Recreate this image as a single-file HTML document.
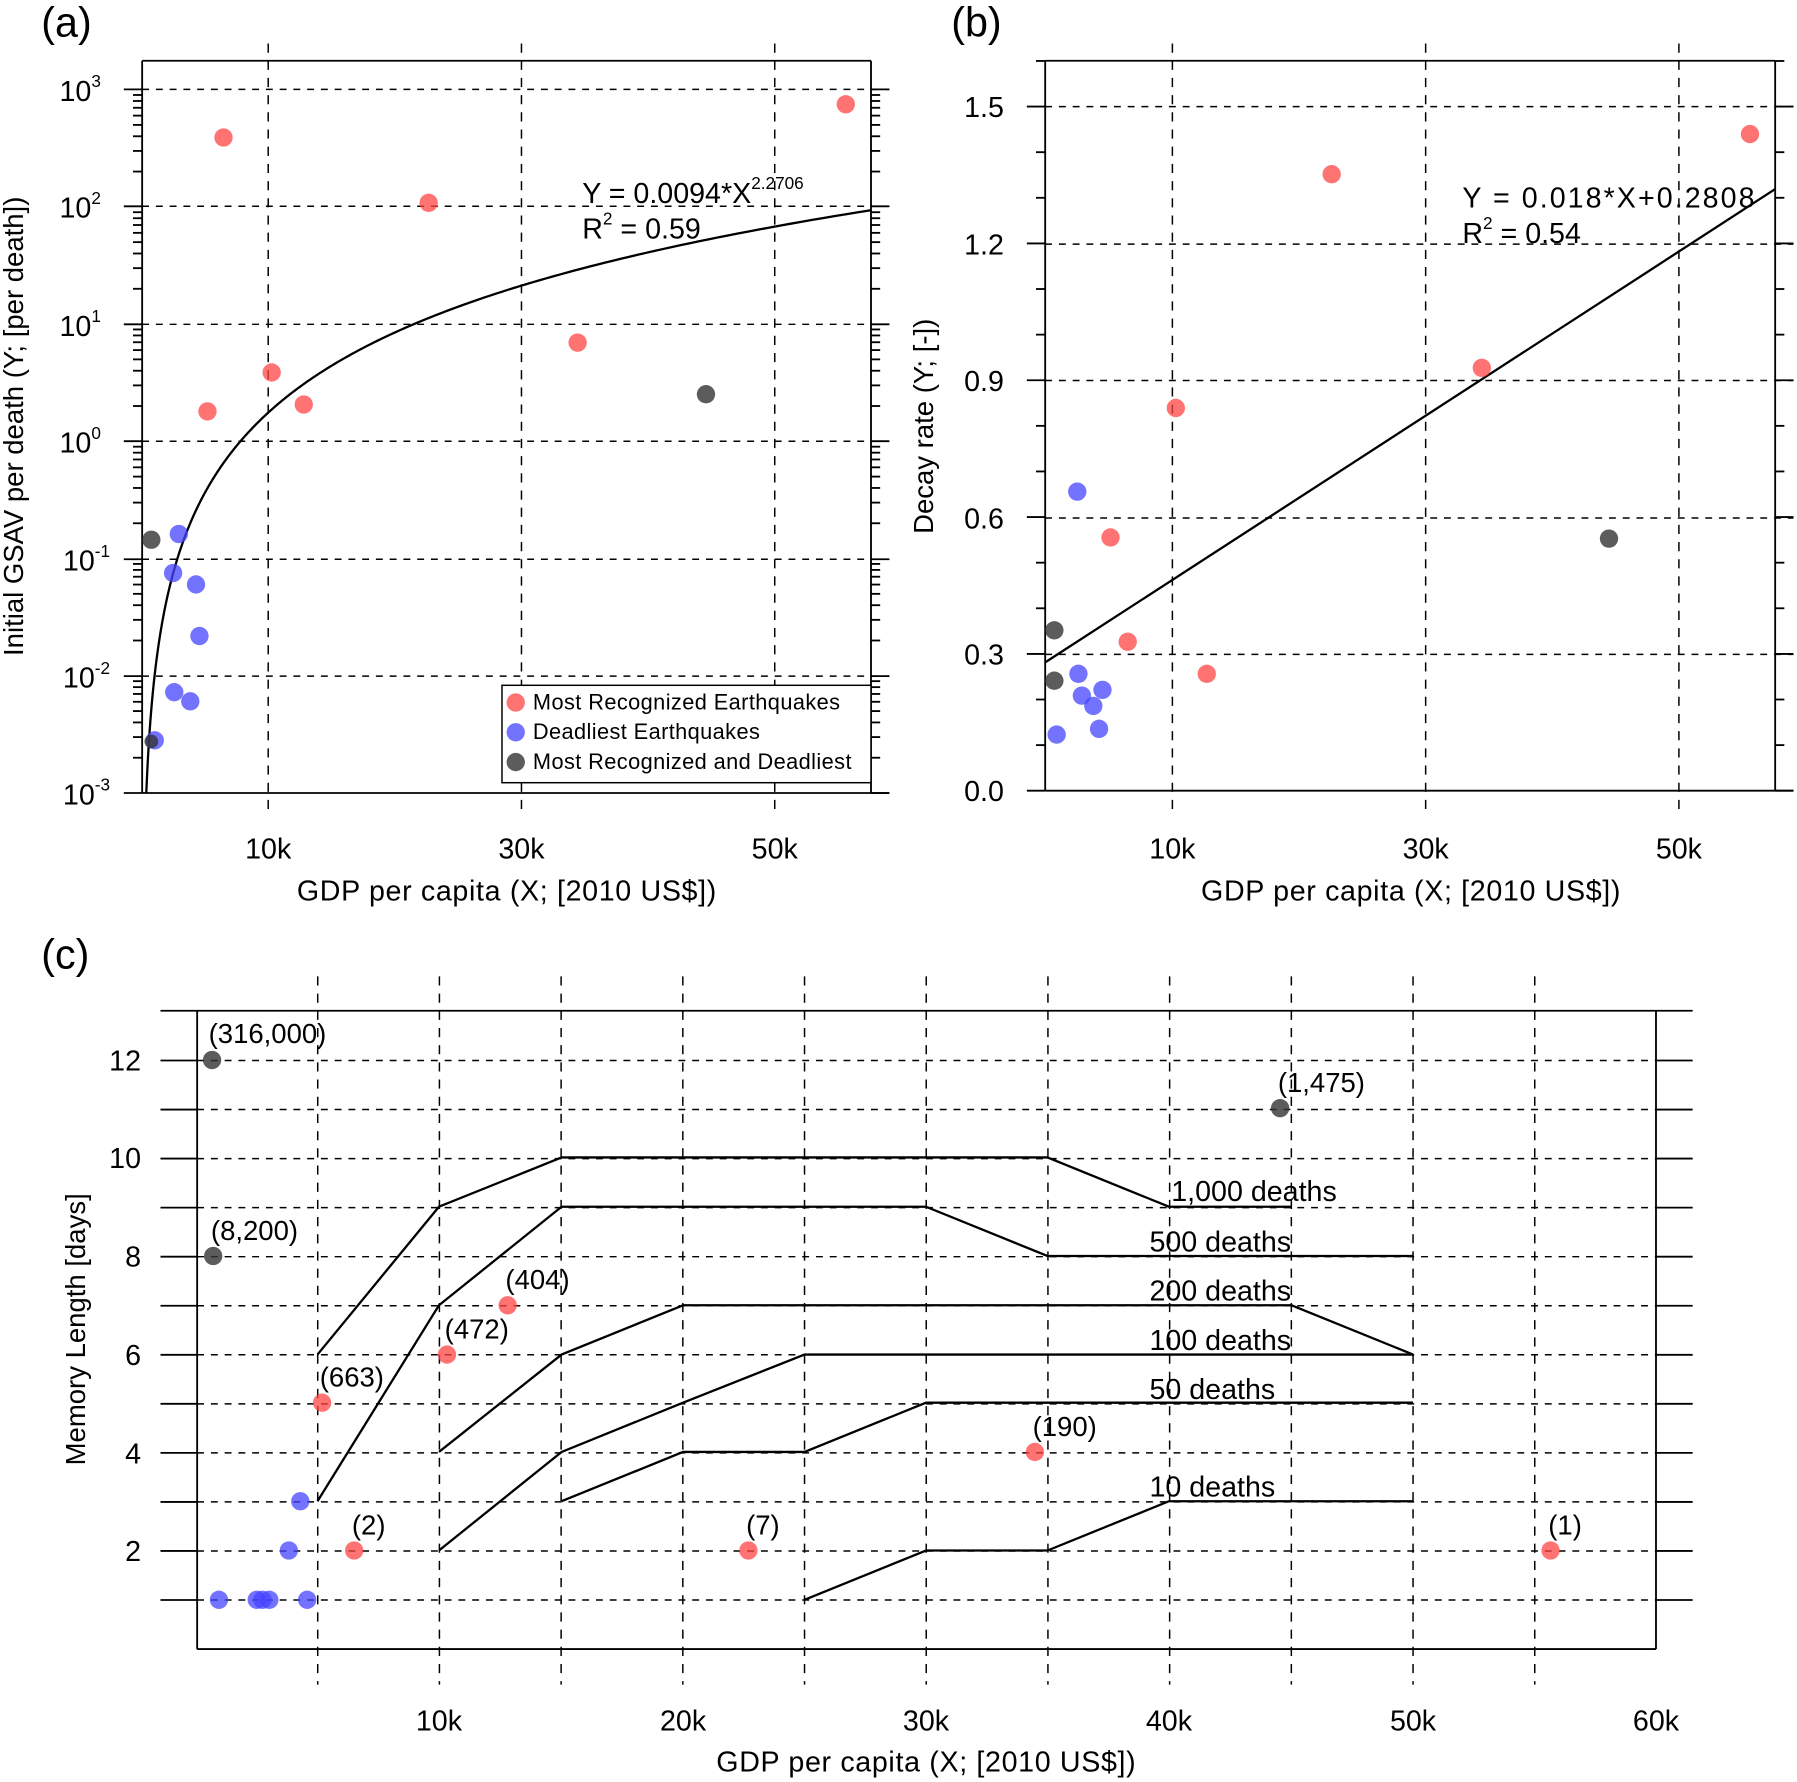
<!DOCTYPE html>
<html><head><meta charset="utf-8"><style>
html,body{margin:0;padding:0;background:#fff;}
svg{display:block;font-family:"Liberation Sans",sans-serif;}
</style></head><body>
<svg id="s" width="1797" height="1782" viewBox="0 0 1568 1555" xmlns="http://www.w3.org/2000/svg">
<defs>
<style>
.g{stroke:#000;stroke-width:1.3;stroke-dasharray:6,6;fill:none}
.gv{stroke:#000;stroke-width:1.3;stroke-dasharray:8,7;fill:none}
.b{stroke:#000;stroke-width:1.6;fill:none}
.l{stroke:#000;stroke-width:2;fill:none}
.r{fill:#ff4444;fill-opacity:0.75}
.bl{fill:#4444ff;fill-opacity:0.75}
.k{fill:#333;fill-opacity:0.8}
text{fill:#000}
</style>
</defs>
<rect width="1568" height="1555" fill="#fff"/>

<!-- ===== Panel (a) ===== -->
<text x="36" y="32" font-size="36">(a)</text>
<line class="gv" x1="234" y1="38" x2="234" y2="706"/>
<line class="gv" x1="455" y1="38" x2="455" y2="706"/>
<line class="gv" x1="676" y1="38" x2="676" y2="706"/>
<line class="g" x1="124" y1="78" x2="776" y2="78"/>
<line class="g" x1="124" y1="180" x2="776" y2="180"/>
<line class="g" x1="124" y1="283" x2="776" y2="283"/>
<line class="g" x1="124" y1="385" x2="776" y2="385"/>
<line class="g" x1="124" y1="488" x2="776" y2="488"/>
<line class="g" x1="124" y1="590" x2="776" y2="590"/>
<line class="b" x1="124" y1="53" x2="760" y2="53"/>
<line class="b" x1="124" y1="692" x2="776" y2="692"/>
<line class="b" x1="124" y1="53" x2="124" y2="692"/>
<line class="b" x1="760" y1="53" x2="760" y2="692"/>
<g id="aticks"></g>
<g font-size="25" text-anchor="end">
<text x="88" y="88">10<tspan font-size="15" dy="-12">3</tspan></text>
<text x="88" y="190">10<tspan font-size="15" dy="-12">2</tspan></text>
<text x="88" y="293">10<tspan font-size="15" dy="-12">1</tspan></text>
<text x="88" y="395">10<tspan font-size="15" dy="-12">0</tspan></text>
<text x="96" y="498">10<tspan font-size="15" dy="-12">-1</tspan></text>
<text x="96" y="600">10<tspan font-size="15" dy="-12">-2</tspan></text>
<text x="96" y="702">10<tspan font-size="15" dy="-12">-3</tspan></text>
</g>
<g font-size="25" text-anchor="middle">
<text x="234" y="749">10k</text><text x="455" y="749">30k</text><text x="676" y="749">50k</text>
<text x="442" y="786" textLength="366">GDP per capita (X; [2010 US$])</text>
</g>
<text font-size="24" text-anchor="middle" transform="translate(20,372) rotate(-90)">Initial GSAV per death (Y; [per death])</text>
<polyline id="curve" class="l" points="127.6,692 129,662.2 131.2,628.4 134.6,592.4 140.1,551.4 145.6,522.4 156.7,481.6 167.7,452.5 178.8,430 200.9,396 234,360 278.2,326.2 344.5,290.2 432.9,256.2 543.4,225.4 653.9,201.9 760,183.5"/>
<text x="508" y="177" font-size="25">Y = 0.0094*X<tspan font-size="15" dy="-12">2.2706</tspan></text>
<text x="508" y="208" font-size="25">R<tspan font-size="15" dy="-12">2</tspan><tspan dy="12"> = 0.59</tspan></text>
<g>
<circle class="r" cx="195" cy="120" r="8"/><circle class="r" cx="738" cy="91" r="8"/><circle class="r" cx="374" cy="177" r="8"/>
<circle class="r" cx="504" cy="299" r="8"/><circle class="r" cx="237" cy="325" r="8"/><circle class="r" cx="181" cy="359" r="8"/><circle class="r" cx="265" cy="353" r="8"/>
<circle class="k" cx="616" cy="344" r="8"/><circle class="k" cx="132" cy="471" r="8"/>
<circle class="bl" cx="156" cy="466" r="8"/><circle class="bl" cx="151" cy="500" r="8"/><circle class="bl" cx="171" cy="510" r="8"/><circle class="bl" cx="174" cy="555" r="8"/>
<circle class="bl" cx="152" cy="604" r="8"/><circle class="bl" cx="166" cy="612" r="8"/><circle class="bl" cx="135" cy="646" r="8"/><circle class="k" cx="132" cy="647" r="6"/>
</g>
<rect x="438" y="598" width="322" height="85" fill="#fff" stroke="#000" stroke-width="1.3"/>
<circle class="r" cx="450" cy="613" r="8"/><circle class="bl" cx="450" cy="639" r="8"/><circle class="k" cx="450" cy="665" r="8"/>
<g font-size="19"><text x="465" y="619" textLength="268">Most Recognized Earthquakes</text><text x="465" y="645" textLength="198">Deadliest Earthquakes</text><text x="465" y="671" textLength="278">Most Recognized and Deadliest</text></g>

<!-- ===== Panel (b) ===== -->
<text x="830" y="32" font-size="36">(b)</text>
<line class="gv" x1="1023" y1="38" x2="1023" y2="706"/>
<line class="gv" x1="1244" y1="38" x2="1244" y2="706"/>
<line class="gv" x1="1465" y1="38" x2="1465" y2="706"/>
<line class="g" x1="912" y1="93" x2="1565" y2="93"/>
<line class="g" x1="912" y1="213" x2="1565" y2="213"/>
<line class="g" x1="912" y1="332" x2="1565" y2="332"/>
<line class="g" x1="912" y1="452" x2="1565" y2="452"/>
<line class="g" x1="912" y1="571" x2="1565" y2="571"/>
<line class="b" x1="912" y1="53" x2="1549" y2="53"/>
<line class="b" x1="912" y1="690" x2="1565" y2="690"/>
<line class="b" x1="912" y1="53" x2="912" y2="690"/>
<line class="b" x1="1549" y1="53" x2="1549" y2="690"/>
<g id="bticks"></g>
<g font-size="25" text-anchor="end">
<text x="876" y="102">1.5</text><text x="876" y="222">1.2</text><text x="876" y="341">0.9</text>
<text x="876" y="461">0.6</text><text x="876" y="580">0.3</text><text x="876" y="699">0.0</text>
</g>
<g font-size="25" text-anchor="middle">
<text x="1023" y="749">10k</text><text x="1244" y="749">30k</text><text x="1465" y="749">50k</text>
<text x="1231" y="786" textLength="366">GDP per capita (X; [2010 US$])</text>
</g>
<text font-size="24" text-anchor="middle" transform="translate(814,372) rotate(-90)">Decay rate (Y; [-])</text>
<line class="l" x1="912" y1="578" x2="1549" y2="165"/>
<text x="1276" y="181" font-size="25" textLength="255">Y = 0.018*X+0.2808</text>
<text x="1276" y="212" font-size="25">R<tspan font-size="15" dy="-12">2</tspan><tspan dy="12"> = 0.54</tspan></text>
<g>
<circle class="r" cx="1527" cy="117" r="8"/><circle class="r" cx="1162" cy="152" r="8"/><circle class="r" cx="1293" cy="321" r="8"/>
<circle class="r" cx="1026" cy="356" r="8"/><circle class="r" cx="969" cy="469" r="8"/><circle class="r" cx="984" cy="560" r="8"/><circle class="r" cx="1053" cy="588" r="8"/>
<circle class="k" cx="1404" cy="470" r="8"/><circle class="k" cx="920" cy="550" r="8"/><circle class="k" cx="920" cy="594" r="8"/>
<circle class="bl" cx="940" cy="429" r="8"/><circle class="bl" cx="941" cy="588" r="8"/><circle class="bl" cx="944" cy="607" r="8"/><circle class="bl" cx="954" cy="616" r="8"/>
<circle class="bl" cx="962" cy="602" r="8"/><circle class="bl" cx="922" cy="641" r="8"/><circle class="bl" cx="959" cy="636" r="8"/>
</g>

<!-- ===== Panel (c) ===== -->
<text x="36" y="845" font-size="36">(c)</text>
<g id="cgrid"></g>
<line class="b" x1="140" y1="882" x2="1477" y2="882"/>
<line class="b" x1="172" y1="1439" x2="1445" y2="1439"/>
<line class="b" x1="172" y1="882" x2="172" y2="1439"/>
<line class="b" x1="1445" y1="882" x2="1445" y2="1439"/>
<g font-size="25" text-anchor="end">
<text x="123" y="1362">2</text><text x="123" y="1277">4</text><text x="123" y="1191">6</text>
<text x="123" y="1105">8</text><text x="123" y="1019">10</text><text x="123" y="934">12</text>
</g>
<g font-size="25" text-anchor="middle">
<text x="383" y="1510">10k</text><text x="596" y="1510">20k</text><text x="808" y="1510">30k</text>
<text x="1020" y="1510">40k</text><text x="1233" y="1510">50k</text><text x="1445" y="1510">60k</text>
<text x="808" y="1546" textLength="366">GDP per capita (X; [2010 US$])</text>
</g>
<text font-size="24" text-anchor="middle" transform="translate(74,1160) rotate(-90)">Memory Length [days]</text>
<g>
<polyline class="l" points="277,1182 383,1053 490,1010 914,1010 1020,1053 1127,1053"/>
<polyline class="l" points="277,1310 383,1139 490,1053 808,1053 914,1096 1233,1096"/>
<polyline class="l" points="383,1267 490,1182 596,1139 1127,1139 1233,1182"/>
<polyline class="l" points="383,1353 490,1267 596,1224 702,1182 1233,1182"/>
<polyline class="l" points="490,1310 596,1267 702,1267 808,1224 1233,1224"/>
<polyline class="l" points="702,1396 808,1353 914,1353 1020,1310 1233,1310"/>
</g>
<g font-size="25">
<text x="1022" y="1048">1,000 deaths</text><text x="1003" y="1092">500 deaths</text><text x="1003" y="1135">200 deaths</text>
<text x="1003" y="1178">100 deaths</text><text x="1003" y="1221">50 deaths</text><text x="1003" y="1306">10 deaths</text>
</g>
<g>
<circle class="k" cx="185" cy="925" r="8"/><circle class="k" cx="1117" cy="967" r="8"/><circle class="k" cx="186" cy="1096" r="8"/>
<circle class="r" cx="281" cy="1224" r="8"/><circle class="r" cx="390" cy="1182" r="8"/><circle class="r" cx="443" cy="1139" r="8"/>
<circle class="r" cx="309" cy="1353" r="8"/><circle class="r" cx="653" cy="1353" r="8"/><circle class="r" cx="903" cy="1267" r="8"/><circle class="r" cx="1353" cy="1353" r="8"/>
<circle class="bl" cx="191" cy="1396" r="8"/><circle class="bl" cx="224" cy="1396" r="8"/><circle class="bl" cx="229" cy="1396" r="8"/><circle class="bl" cx="235" cy="1396" r="8"/>
<circle class="bl" cx="268" cy="1396" r="8"/><circle class="bl" cx="262" cy="1310" r="8"/><circle class="bl" cx="252" cy="1353" r="8"/>
</g>
<g font-size="24">
<text x="182" y="910">(316,000)</text><text x="1115" y="953">(1,475)</text><text x="184" y="1082">(8,200)</text>
<text x="279" y="1210">(663)</text><text x="388" y="1168">(472)</text><text x="441" y="1125">(404)</text>
<text x="307" y="1339">(2)</text><text x="651" y="1339">(7)</text><text x="901" y="1253">(190)</text><text x="1351" y="1339">(1)</text>
</g>
</svg>
<script>
(function(){
var NS="http://www.w3.org/2000/svg";
function ln(p,x1,y1,x2,y2,c){var e=document.createElementNS(NS,"line");e.setAttribute("x1",x1);e.setAttribute("y1",y1);e.setAttribute("x2",x2);e.setAttribute("y2",y2);e.setAttribute("class",c);p.appendChild(e);}
var a=document.getElementById("aticks");
var majors=[78,180,283,385,488,590,692];
for(var i=0;i<majors.length;i++){ln(a,108,majors[i],124,majors[i],"b");ln(a,760,majors[i],776,majors[i],"b");}
for(var d=0;d<7;d++){var base=692-d*102.3;for(var m=2;m<10;m++){var y=base-Math.log10(m)*102.3;if(y>53){ln(a,116,y,124,y,"b");ln(a,760,y,768,y,"b");}}}
var b=document.getElementById("bticks");
for(var t=0;t<=16;t++){var v=t/10;var y=690-v*(119.4/0.3);var big=(t%3==0);ln(b,big?896:904,y,912,y,"b");ln(b,1549,y,big?1565:1557,y,"b");}
var c=document.getElementById("cgrid");
for(var k=5;k<=55;k+=5){var x=171+k*21.24;ln(c,x,852,x,1470,"gv");}
for(var j=1;j<=12;j++){var y=1439-j*42.8;ln(c,172,y,1445,y,"g");ln(c,140,y,172,y,"b");ln(c,1445,y,1477,y,"b");}
var pts=[];
for(var i=0;i<=300;i++){var X=0.373*Math.pow(57.6/0.373,i/300);var y=385-102.3*(Math.log10(0.0094)+2.2706*Math.log10(X));var x=123.5+X*11.05;pts.push(x.toFixed(2)+","+y.toFixed(2));}
document.getElementById("curve").setAttribute("points",pts.join(" "));
})();
</script>
</body></html>
